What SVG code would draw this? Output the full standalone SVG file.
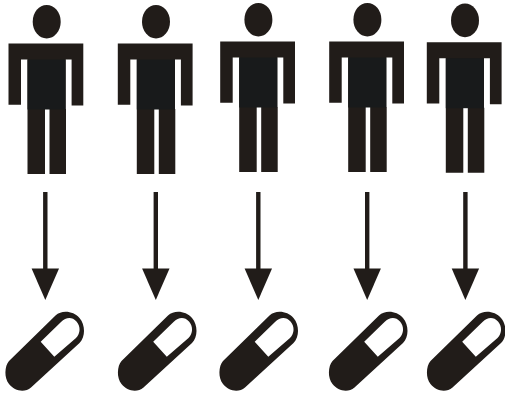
<svg xmlns="http://www.w3.org/2000/svg" width="505" height="394" viewBox="0 0 505 394">
<style>.d{fill:#211c19}.t{fill:#181a1b}.w{fill:#fff}</style>
<defs>
<g id="person"><ellipse class="d" cx="46.7" cy="21.7" rx="14" ry="16.8"/><path class="d" d="M8.5 43.5H83.3V105.5H71.6V59.5H65.7V109H66V174H49.5V109H45V174H27.5V109V59.5H21V104.8H8.5Z"/><rect class="t" x="27.5" y="59.5" width="38" height="50"/></g>
<g id="arrow"><rect class="d" x="-2.2" y="192" width="4.4" height="78"/><path class="d" d="M-13.7 268.5H13.7L0 300Z"/></g>
<g id="pill"><path class="d" d="M9 361C4.500 366 4 378 9 384C14.500 391 24.500 393 31 387.500L79.500 343C85.500 337 85.500 325 79.500 318C73.500 311 62 309.500 55.500 315.500Z"/><path class="w" d="M40.700 341.700L61 322C66 317 72 316.500 76.500 321.500C80.800 326.500 80.500 333.500 76 338L54.300 356.700Z"/></g>
</defs>
<g id="connectors"><use href="#arrow" x="45.3"/><use href="#arrow" x="155.8"/><use href="#arrow" x="258.3"/><use href="#arrow" x="367.2"/><use href="#arrow" x="465.4"/></g>
<g id="person-1"><use href="#person"/></g>
<g id="person-2"><use href="#person" x="109.3"/></g>
<g id="person-3"><use href="#person" x="211.7" y="-2"/></g>
<g id="person-4"><use href="#person" x="320.7" y="-2"/></g>
<g id="person-5"><use href="#person" x="418.3" y="-1.3"/></g>
<g id="pill-1"><use href="#pill"/></g>
<g id="pill-2"><use href="#pill" x="112.5"/></g>
<g id="pill-3"><use href="#pill" x="214"/></g>
<g id="pill-4"><use href="#pill" x="323.5"/></g>
<g id="pill-5"><use href="#pill" x="421.5"/></g>
</svg>
